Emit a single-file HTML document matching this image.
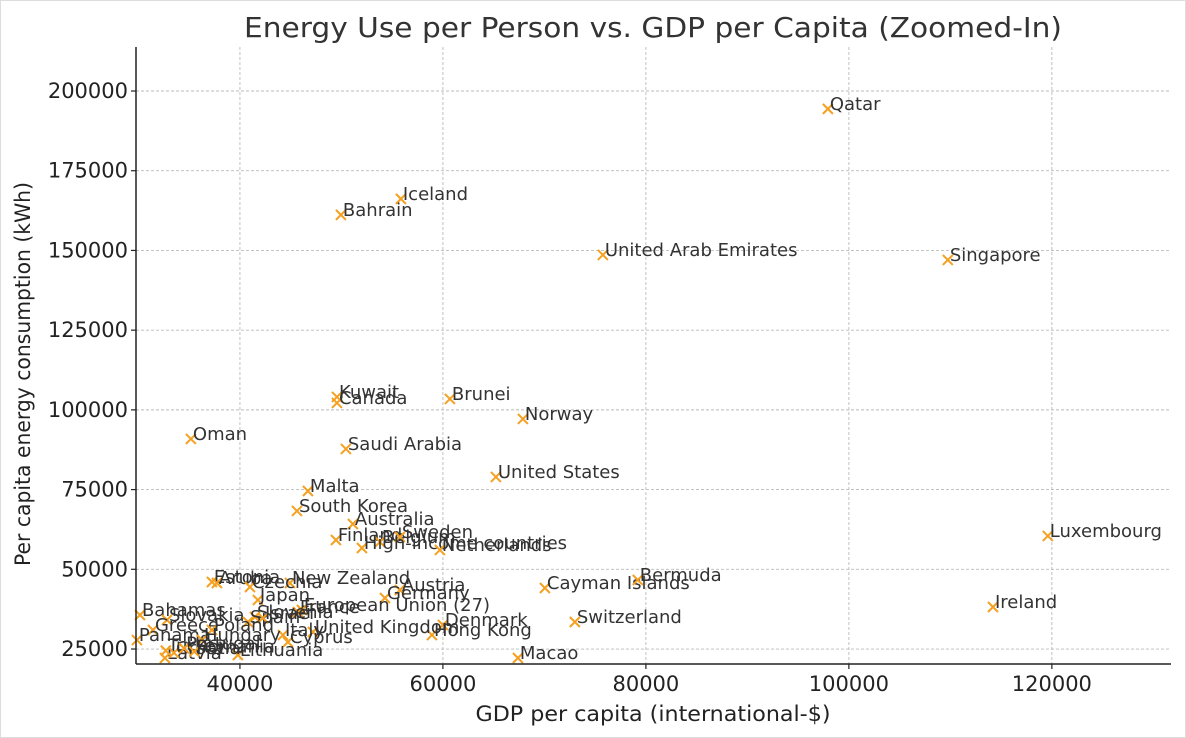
<!DOCTYPE html>
<html><head><meta charset="utf-8"><style>
html,body{margin:0;padding:0;background:#fff;}
svg{display:block;font-family:"DejaVu Sans","Liberation Sans",sans-serif;}
</style></head><body>
<svg id="chart" width="1186" height="738" viewBox="0 0 1186 738">
<rect x="0.5" y="0.5" width="1185" height="737" fill="#fff" stroke="#ddd"/>
<text x="653" y="37" font-size="28" fill="#333" text-anchor="middle" textLength="818" lengthAdjust="spacingAndGlyphs">Energy Use per Person vs. GDP per Capita (Zoomed-In)</text>
<g id="grid"></g>
<g id="points"></g>
<g id="axes"></g>
<text x="653" y="721" font-size="21" fill="#222" text-anchor="middle" textLength="355" lengthAdjust="spacingAndGlyphs">GDP per capita (international-$)</text>
<text transform="translate(30,374) rotate(-90)" font-size="21" fill="#222" text-anchor="middle" textLength="384" lengthAdjust="spacingAndGlyphs">Per capita energy consumption (kWh)</text>
</svg>
<script>
const countries=["Qatar","Iceland","Bahrain","United Arab Emirates","Singapore","Kuwait","Canada","Brunei","Norway","Oman","Saudi Arabia","United States","Malta","South Korea","Australia","Luxembourg","Finland","Belgium","Sweden","High-income countries","Netherlands","New Zealand","Austria","Germany","Cayman Islands","Bermuda","Switzerland","Ireland","France","European Union (27)","Denmark","Hong Kong","United Kingdom","Macao","Estonia","Aruba","Czechia","Japan","Bahamas","Slovakia","Slovenia","Spain","Israel","Greece","Poland","Italy","Cyprus","Panama","Hungary","Lithuania","Latvia","Turkey","Croatia","Portugal","Romania"];
const gdp=[97930,55860,49950,75760,109750,49560,49560,60690,67880,35170,50440,65220,46700,45620,51130,119600,49460,53790,55760,52020,59700,44930,55760,54290,70050,79200,73000,114200,45710,46110,60000,58920,47190,67390,37240,37730,40990,41770,30150,32810,41480,40790,42270,31430,37240,44240,44730,29850,36260,39800,32610,32700,33500,34500,35500];
const energy=[194400,166170,161150,148600,147030,104050,102170,103430,97150,90880,87740,78960,74560,68290,64210,60450,59190,58570,60130,56680,56060,45700,43510,41000,44140,46650,33470,38180,36610,37230,32530,29390,30330,22180,46020,45700,44450,40370,35670,34100,35040,33470,34720,30960,30960,29390,27200,27820,27820,23120,22180,24500,23800,25200,24200];
const xTicks=[40000,60000,80000,100000,120000];
const yTicks=[25000,50000,75000,100000,125000,150000,175000,200000];
const X0=136,X1=1171,Y0=664,Y1=47;
const xmin=29760,xmax=131740,ymin=20300,ymax=213800;
const sx=v=>X0+(v-xmin)/(xmax-xmin)*(X1-X0);
const sy=v=>Y0-(v-ymin)/(ymax-ymin)*(Y0-Y1);
const NS="http://www.w3.org/2000/svg";
function mk(tag,attrs,parent){const e=document.createElementNS(NS,tag);for(const k in attrs)e.setAttribute(k,attrs[k]);parent.appendChild(e);return e;}
const grid=document.getElementById('grid'),axes=document.getElementById('axes'),pts=document.getElementById('points');
xTicks.forEach(t=>{const x=sx(t);
 const g=mk('line',{x1:x,x2:x,y1:Y1,y2:Y0,stroke:'#bbb','stroke-dasharray':'3,2','stroke-width':0.9},grid);
 
 
 const tk=mk('line',{x1:x,x2:x,y1:Y0,y2:Y0+5,stroke:'#222','stroke-width':1.2},axes);
 
 
 const l=mk('text',{x:x,y:Y0+27,'font-size':21,fill:'#222','text-anchor':'middle'},axes);l.textContent=t;
 
 
});
yTicks.forEach(t=>{const y=sy(t);
 const g=mk('line',{x1:X0,x2:X1,y1:y,y2:y,stroke:'#bbb','stroke-dasharray':'3,2','stroke-width':0.9},grid);
 
 
 const tk=mk('line',{x1:X0-5,x2:X0,y1:y,y2:y,stroke:'#222','stroke-width':1.2},axes);
 
 
 const l=mk('text',{x:X0-8,y:y+7,'font-size':21,fill:'#222','text-anchor':'end'},axes);l.textContent=t;
 
 
});
const ax1=mk('line',{x1:X0,x2:X0,y1:Y1,y2:Y0,stroke:'#222','stroke-width':1.5},axes);


const ax2=mk('line',{x1:X0,x2:X1,y1:Y0,y2:Y0,stroke:'#222','stroke-width':1.5},axes);


countries.forEach((c,i)=>{const x=sx(gdp[i]),y=sy(energy[i]);
 const p=mk('path',{d:`M${x-5},${y-5}L${x+5},${y+5}M${x-5},${y+5}L${x+5},${y-5}`,stroke:'#f5a020','stroke-width':2,fill:'none'},pts);
 
 
 const t=mk('text',{x:x+2,y:y+1,'font-size':18,fill:'#333'},pts);t.textContent=c;
 
 
});
</script>
</body></html>
